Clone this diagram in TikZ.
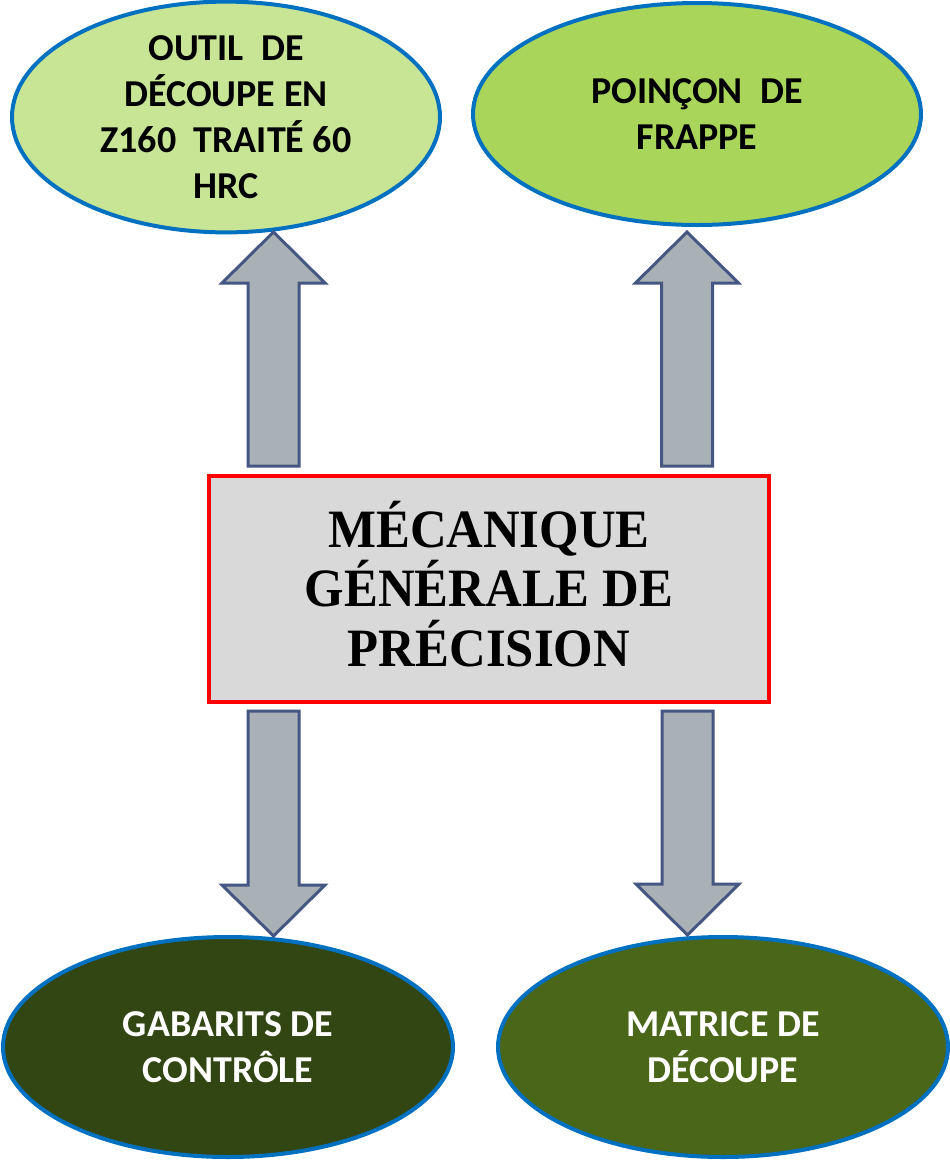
\documentclass[tikz,border=0pt]{standalone}
\usepackage{fontspec}
\setmainfont{Carlito}
\newfontfamily\titlefont[FakeStretch=0.94]{Liberation Serif}
\usetikzlibrary{shapes.geometric,calc}
\definecolor{ellblue}{HTML}{0070C0}
\definecolor{lightgreen}{HTML}{C8E596}
\definecolor{midgreen}{HTML}{A9D65A}
\definecolor{darkgreen}{HTML}{324614}
\definecolor{olivegreen}{HTML}{4A6619}
\definecolor{arrowfill}{HTML}{AAB1B6}
\definecolor{arrowline}{HTML}{465682}
\definecolor{boxfill}{HTML}{D9D9D9}
\tikzset{
  ellbox/.style={ellipse, draw=ellblue, line width=4pt, inner sep=0pt, align=center,
    font=\bfseries\fontsize{38}{46}\selectfont},
  centerbox/.style={rectangle, draw=red, fill=boxfill, line width=4pt, inner sep=0pt, align=center,
    font=\titlefont\bfseries\fontsize{54}{59.5}\selectfont},
  arrowbox/.style={draw=arrowline, fill=arrowfill, line width=3pt, line join=miter}
}
\newcommand\blockarrow[3]{%
  \draw[arrowbox] ($(#1)+(-25.5,0)$) -- ($(#2)+(-25.5,#3)$) -- ($(#2)+(-51.5,#3)$) -- (#2)
    -- ($(#2)+(51.5,#3)$) -- ($(#2)+(25.5,#3)$) -- ($(#1)+(25.5,0)$) -- cycle;}
\begin{document}
\begin{tikzpicture}[x=1pt,y=-1pt]
\useasboundingbox (0,0) rectangle (950,1160);
\node[ellbox, fill=lightgreen, minimum width=428pt, minimum height=226pt] (tl) at (226,117)
  {OUTIL\ \ DE\\DÉCOUPE EN\\Z160\ \ TRAITÉ 60\\HRC};
\node[ellbox, fill=midgreen, minimum width=448pt, minimum height=222pt] (tr) at (697,114)
  {POINÇON\ \ DE\\FRAPPE};
\node[ellbox, fill=darkgreen, text=white, minimum width=450pt, minimum height=220pt] (bl) at (228,1047)
  {GABARITS DE\\CONTRÔLE};
\node[ellbox, fill=olivegreen, text=white, minimum width=450pt, minimum height=220pt] (br) at (723,1047)
  {MATRICE DE\\DÉCOUPE};
\node[centerbox, minimum width=560pt, minimum height=226pt] (mg) at (489,589) {};
\node[font=\titlefont\bfseries\fontsize{54}{59.5}\selectfont, align=center, inner sep=0pt] (mgt) at (489,584)
  {MÉCANIQUE\\GÉNÉRALE DE\\PRÉCISION};
\coordinate (ulb) at (273.5,466);
\coordinate (ult) at (273.5,232);
\coordinate (urb) at (687,466);
\coordinate (urt) at (687,232);
\coordinate (dlb) at (273.5,711);
\coordinate (dlt) at (273.5,936);
\coordinate (drb) at (687.5,711);
\coordinate (drt) at (687.5,935);
\blockarrow{ulb}{ult}{51}
\blockarrow{urb}{urt}{51}
\blockarrow{dlb}{dlt}{-51}
\blockarrow{drb}{drt}{-51}
\end{tikzpicture}
\end{document}
